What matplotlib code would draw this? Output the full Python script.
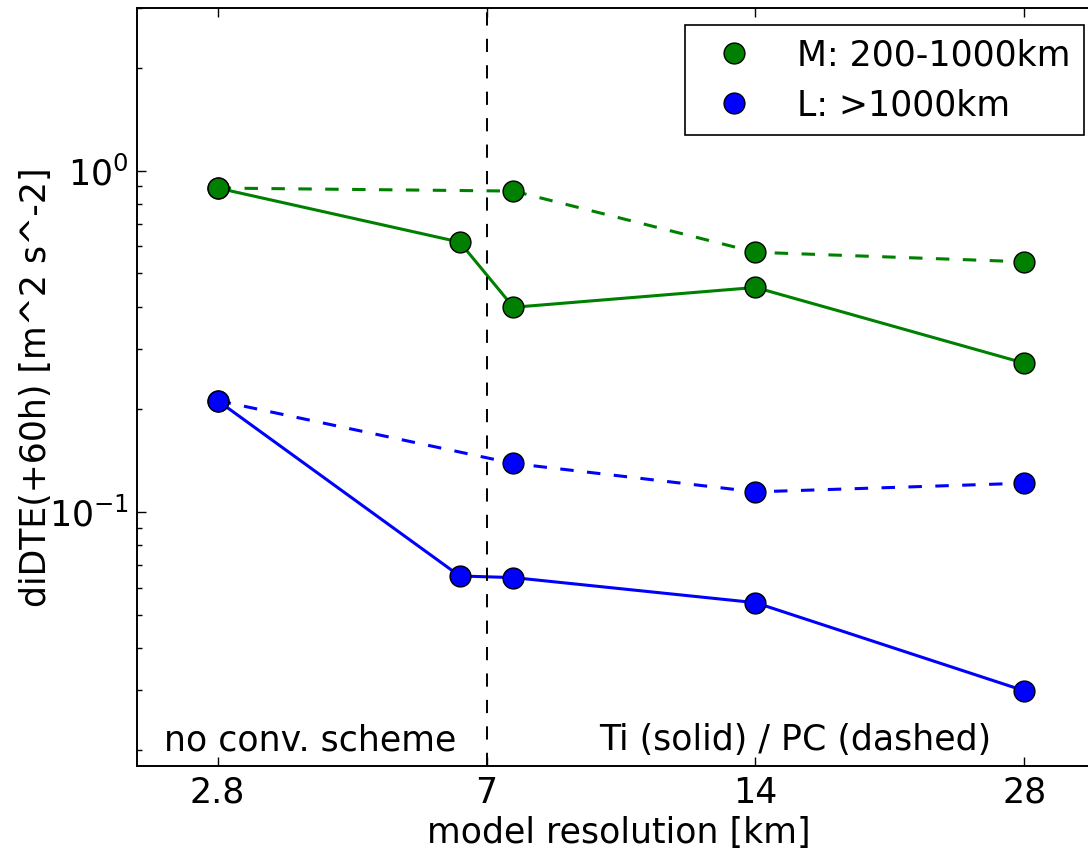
import matplotlib
matplotlib.use("Agg")
import matplotlib.pyplot as plt

# positions on the categorical resolution axis (2.8, 7, 14, 28 km)
tick_pos = [0, 1, 2, 3]
tick_labels = ["2.8", "7", "14", "28"]

# Ti (solid) runs: no-conv point at 2.8, two runs near 7 km, then 14 and 28
x_ti = [0, 0.9, 1.1, 2, 3]
m_ti = [0.89, 0.618, 0.398, 0.455, 0.273]
l_ti = [0.212, 0.0649, 0.0642, 0.0542, 0.0299]

# PC (dashed) runs
x_pc = [0, 1.1, 2, 3]
m_pc = [0.89, 0.872, 0.577, 0.541]
l_pc = [0.212, 0.1387, 0.1145, 0.1214]

series_labels = ["M: 200-1000km", "L: >1000km"]
green = "#008000"
blue = "#0000ff"

fs = 25
plt.rcParams["font.family"] = ["DejaVu Sans"]
plt.rcParams["mathtext.default"] = "regular"

W, H = 1088, 856
fig = plt.figure(figsize=(W / 100, H / 100), dpi=100)
ax = fig.add_axes([137 / W, 90 / H, (1101 - 137) / W, (766 - 8) / H])

lw = 2.2
dash = (4.4, 4.4)
ax.plot(x_ti, m_ti, "-", color=green, lw=lw)
ax.plot(x_pc, m_pc, color=green, lw=lw, dashes=dash)
ax.plot(x_ti, l_ti, "-", color=blue, lw=lw)
ax.plot(x_pc, l_pc, color=blue, lw=lw, dashes=dash)

mk = dict(marker="o", ls="none", ms=15, mec="black", mew=1, zorder=3)
ax.plot(x_ti, m_ti, color=green, label=series_labels[0], **mk)
ax.plot(x_pc, m_pc, color=green, **mk)
ax.plot(x_ti, l_ti, color=blue, label=series_labels[1], **mk)
ax.plot(x_pc, l_pc, color=blue, **mk)

ax.axvline(1, color="black", lw=1.4, dashes=(6.8, 6.8))

ax.set_yscale("log")
ax.set_xlim(-0.3, 3.285)
ax.set_ylim(0.018, 3)
ax.set_xticks(tick_pos)
ax.set_xticklabels(tick_labels)

ax.text(-0.2, 0.02, "no conv. scheme", fontsize=fs)
ax.text(1.42, 0.02, "Ti (solid) / PC (dashed)", fontsize=fs)

ax.set_xlabel("model resolution [km]", fontsize=fs)
ax.set_ylabel("diDTE(+60h) [m^2 s^-2]", fontsize=fs)
ax.xaxis.set_label_coords(0.5, -0.066)
ax.yaxis.set_label_coords(-0.087, 0.5)

ax.tick_params(which="both", direction="in", top=True, right=True, labelsize=fs)
ax.tick_params(which="major", length=6.5, width=1)
ax.tick_params(which="minor", length=3.6, width=1)
ax.tick_params(axis="x", which="minor", bottom=False, top=False)
ax.tick_params(axis="x", pad=7)
ax.tick_params(axis="y", pad=6)
for sp in ax.spines.values():
    sp.set_linewidth(1.4)

leg = ax.legend(loc="upper right", numpoints=1, fontsize=fs, fancybox=False,
                handlelength=2.1, handletextpad=0.75,
                borderpad=0.38, labelspacing=0.45, borderaxespad=0.5)
leg.get_frame().set_edgecolor("black")
leg.get_frame().set_linewidth(1.2)
leg.get_frame().set_alpha(1)

fig.savefig("out.png", dpi=100)
